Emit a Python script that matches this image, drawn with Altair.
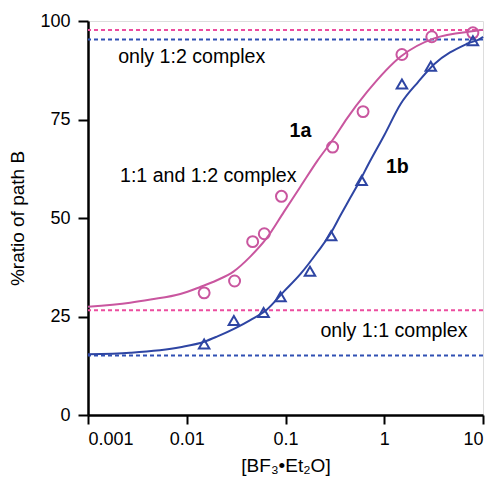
import altair as alt
import pandas as pd

# Measured points
conc_a = [0.015, 0.0305, 0.0465, 0.061, 0.091, 0.30, 0.61, 1.51, 3.03, 7.9]
ratio_a = [31, 34, 44, 46, 55.5, 68, 77, 91.5, 96, 97]
conc_b = [0.015, 0.030, 0.060, 0.089, 0.177, 0.29, 0.59, 1.51, 2.96, 7.9]
ratio_b = [18, 24, 26, 30, 36.5, 45.5, 59.5, 84, 88.5, 95]

# Fitted curves
curve_x_a = [0.001, 0.00267, 0.0043, 0.0086, 0.0137, 0.0202, 0.0297, 0.044, 0.065,
             0.096, 0.142, 0.21, 0.31, 0.42, 0.67, 1.47, 3.2, 9.5, 10]
curve_y_a = [27.5, 28.5, 29.3, 30.7, 32.5, 34.2, 36.4, 40.2, 45,
             51.5, 58, 64.5, 70.3, 75.3, 82, 91, 95.6, 97.7, 97.8]
curve_x_b = [0.001, 0.00267, 0.0086, 0.015, 0.0202, 0.044, 0.065, 0.096, 0.142,
             0.21, 0.29, 0.363, 0.45, 0.59, 0.67, 1.0, 1.47, 2.2, 3.2, 7.0, 9.8, 10]
curve_y_b = [15.4, 15.8, 17.2, 18.6, 19.9, 24.1, 26.8, 31.3, 35.8,
             41.3, 46.3, 50.8, 55, 60.3, 63, 71, 79, 84.5, 89, 94.3, 95.8, 96]

# Limit lines
limit_y = [97.7, 95.3, 26.6, 15.1]
limit_series = ["a", "b", "a", "b"]

# Annotations
ann_text = ["only 1:2 complex", "1:1 and 1:2 complex", "only 1:1 complex"]
ann_x = [0.00202, 0.00211, 0.226]
ann_y = [89.3, 59.2, 19.9]
bold_text = ["1a", "1b"]
bold_x = [0.110, 1.04]
bold_y = [70.6, 61.3]

x_ticks = [0.001, 0.01, 0.1, 1, 10]
y_ticks = [0, 25, 50, 75, 100]

PINK = "#c9569f"
BLUE = "#2e45a3"
PINK_D = "#ec4d9f"
BLUE_D = "#3050b3"
FONT = "Liberation Sans"

xs = alt.Scale(type="log", domain=[0.001, 10], nice=False)
ys = alt.Scale(domain=[0, 100], nice=False)

xax = alt.Axis(values=x_ticks, format="~g", title="[BF₃•Et₂O]", grid=False,
               tickSize=9, tickWidth=2, domainWidth=2.5, domainColor="black",
               tickColor="black", labelFontSize=18, labelPadding=6, labelColor="black",
               titleFontSize=19, titleFontWeight="normal", titleColor="black",
               titlePadding=8, labelFont=FONT, titleFont=FONT)
yax = alt.Axis(values=y_ticks, title="%ratio of path B", grid=False,
               tickSize=10, tickWidth=2, domainWidth=2.5, domainColor="black",
               tickColor="black", labelFontSize=18, labelPadding=8, labelColor="black",
               titleFontSize=19, titleFontWeight="normal", titleColor="black",
               titlePadding=12, labelFont=FONT, titleFont=FONT)

df_a = pd.DataFrame({"x": conc_a, "y": ratio_a})
df_b = pd.DataFrame({"x": conc_b, "y": ratio_b})
ca = pd.DataFrame({"x": curve_x_a, "y": curve_y_a})
cb = pd.DataFrame({"x": curve_x_b, "y": curve_y_b})
lim = pd.DataFrame({"y": limit_y, "s": limit_series})
ann = pd.DataFrame({"t": ann_text, "x": ann_x, "y": ann_y})
bold = pd.DataFrame({"t": bold_text, "x": bold_x, "y": bold_y})

X = alt.X("x:Q", scale=xs, axis=xax)
Y = alt.Y("y:Q", scale=ys, axis=yax)

lim_a = alt.Chart(lim[lim.s == "a"]).mark_rule(
    color=PINK_D, strokeDash=[4, 3], strokeWidth=2).encode(y=alt.Y("y:Q", scale=ys))
lim_b = alt.Chart(lim[lim.s == "b"]).mark_rule(
    color=BLUE_D, strokeDash=[4, 3], strokeWidth=2).encode(y=alt.Y("y:Q", scale=ys))

line_a = alt.Chart(ca).mark_line(color=PINK, strokeWidth=2, interpolate="monotone").encode(x=X, y=Y)
line_b = alt.Chart(cb).mark_line(color=BLUE, strokeWidth=2, interpolate="monotone").encode(x=X, y=Y)

pts_a = alt.Chart(df_a).mark_point(shape="circle", filled=False, color=PINK,
                                   size=120, strokeWidth=2, opacity=1).encode(x=X, y=Y)
pts_b = alt.Chart(df_b).mark_point(shape="triangle-up", filled=False, color=BLUE,
                                   size=110, strokeWidth=2, opacity=1).encode(x=X, y=Y)

txt = alt.Chart(ann).mark_text(align="left", baseline="alphabetic", fontSize=19.6,
                               font=FONT, color="black").encode(x=X, y=Y, text="t:N")
txtb = alt.Chart(bold).mark_text(align="left", baseline="alphabetic", fontSize=19.6,
                                 font=FONT, fontWeight="bold", color="black").encode(x=X, y=Y, text="t:N")

chart = alt.layer(lim_a, lim_b, line_a, line_b, pts_a, pts_b, txt, txtb).properties(
    width=395, height=394,
    autosize=alt.AutoSizeParams(type="none"),
    padding={"left": 80, "top": 13, "right": 3, "bottom": 62},
).configure_view(stroke="black", strokeWidth=1.5).configure(background="white")

chart.save("out.html", embed_options={"renderer": "svg", "actions": False})
